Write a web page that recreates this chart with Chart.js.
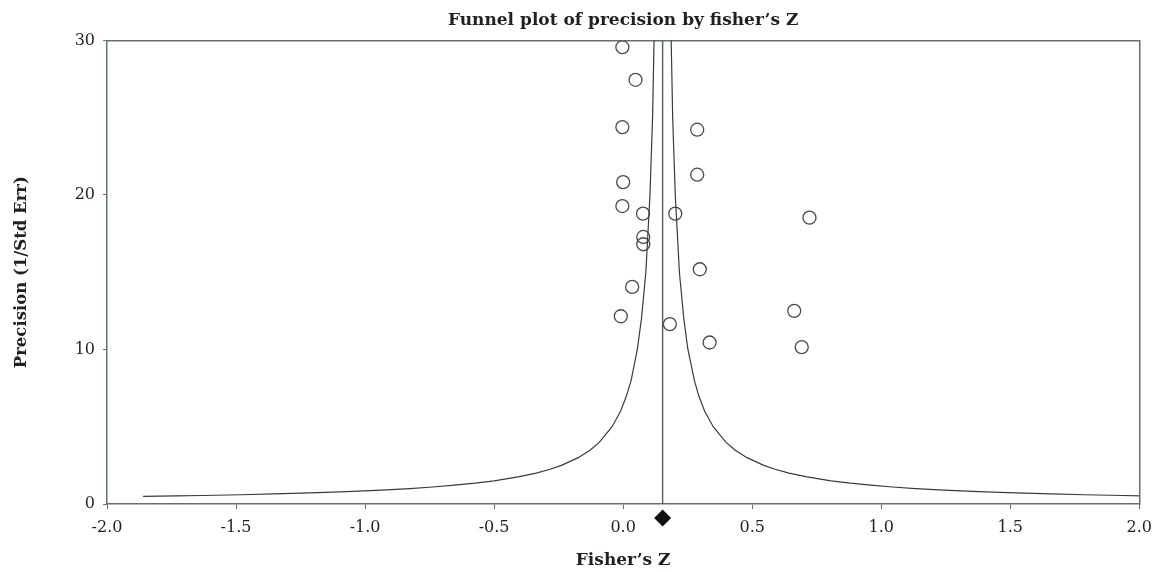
<!DOCTYPE html>
<html>
<head>
<meta charset="utf-8">
<script src="https://cdn.jsdelivr.net/npm/chart.js@4.4.1/dist/chart.umd.min.js"></script>
<style>
  body { margin: 0; background: #fff; }
</style>
</head>
<body>
<canvas id="funnelChart" width="1161" height="572"></canvas>
<script>
// study points
const studyZ = [-0.003, 0.048, -0.003, 0.287, 0.0, 0.287, -0.003, 0.077, 0.202, 0.722,
  0.078, 0.078, 0.297, 0.035, 0.663, -0.009, 0.181, 0.335, 0.692];
const studyPrecision = [29.56, 27.45, 24.39, 24.22, 20.83, 21.31, 19.28, 18.79, 18.79, 18.53,
  17.28, 16.81, 15.19, 14.05, 12.50, 12.15, 11.64, 10.45, 10.15];

// pooled estimate (vertical line + diamond under the axis)
const pooledZ = 0.153;
const pooledLine = [0, 30];
const diamondPrecision = -0.9;

// funnel limits, read at a set of precision levels
const funnelPrecision = [0.49, 0.52, 0.55, 0.6, 0.65, 0.7, 0.75, 0.8, 0.9, 1.0, 1.1, 1.2, 1.35, 1.5,
  1.75, 2.0, 2.25, 2.5, 3.0, 3.5, 4.0, 5.0, 6.0, 7.0, 8.0, 10, 12, 15, 20, 25, 31];
const funnelLeftZ = [-1.86, -1.732, -1.629, -1.48, -1.355, -1.247, -1.154, -1.072, -0.936, -0.827,
  -0.738, -0.664, -0.573, -0.5, -0.407, -0.337, -0.283, -0.239, -0.174, -0.127, -0.092, -0.043,
  -0.01, 0.013, 0.031, 0.055, 0.071, 0.088, 0.104, 0.114, 0.121];
const funnelRightZ = [2.153, 2.038, 1.935, 1.786, 1.661, 1.553, 1.46, 1.378, 1.242, 1.133,
  1.044, 0.97, 0.879, 0.806, 0.713, 0.643, 0.589, 0.545, 0.48, 0.433, 0.398, 0.349,
  0.316, 0.293, 0.276, 0.251, 0.235, 0.218, 0.202, 0.192, 0.185];

const xTicks = [-2, -1.5, -1, -0.5, 0, 0.5, 1, 1.5, 2];
const yTicks = [0, 10, 20, 30];

const AXIS_COLOR = '#667070';
const TEXT_COLOR = '#231f20';
const SERIF = "'DejaVu Serif', serif";

function toPoints(xs, ys) {
  return xs.map((x, i) => ({x: x, y: ys[i]}));
}

const ctx = document.getElementById('funnelChart');
const funnelChart = new Chart(ctx, {
  type: 'scatter',
  data: {
    datasets: [
      {
        // left funnel limit
        data: toPoints(funnelLeftZ, funnelPrecision),
        showLine: true,
        borderColor: '#3a3a3a',
        borderWidth: 1.2,
        pointRadius: 0,
        tension: 0
      },
      {
        // right funnel limit
        data: toPoints(funnelRightZ, funnelPrecision),
        showLine: true,
        borderColor: '#3a3a3a',
        borderWidth: 1.2,
        pointRadius: 0,
        tension: 0
      },
      {
        // pooled line
        data: toPoints([pooledZ, pooledZ], pooledLine),
        showLine: true,
        borderColor: '#555c5c',
        borderWidth: 1.4,
        pointRadius: 0
      },
      {
        data: toPoints(studyZ, studyPrecision),
        pointStyle: 'circle',
        pointRadius: 6.5,
        borderWidth: 1.3,
        borderColor: '#4a4a4a',
        backgroundColor: 'rgba(0,0,0,0)'
      },
      {
        // sits below the x axis, so widen the in-area margin via hoverRadius
        data: [{x: pooledZ, y: diamondPrecision}],
        pointStyle: 'rectRot',
        pointRadius: 8.5,
        hoverRadius: 20,
        borderWidth: 0,
        backgroundColor: '#111',
        clip: false
      }
    ]
  },
  options: {
    responsive: false,
    animation: false,
    events: [],
    layout: {padding: {left: 0, right: 21, top: 0, bottom: 0}},
    plugins: {
      legend: {display: false},
      tooltip: {enabled: false},
      title: {
        display: true,
        fullSize: false,
        text: 'Funnel plot of precision by fisher’s Z',
        color: TEXT_COLOR,
        font: {family: SERIF, size: 17, weight: 'bold'},
        padding: {top: 10, bottom: 10}
      }
    },
    scales: {
      x: {
        type: 'linear',
        min: -2,
        max: 2,
        afterBuildTicks: s => { s.ticks = xTicks.map(v => ({value: v})); },
        afterFit: s => { s.height = 68; },
        ticks: {
          callback: v => v.toFixed(1),
          color: TEXT_COLOR,
          font: {family: SERIF, size: 16},
          padding: 9,
          maxRotation: 0
        },
        grid: {drawOnChartArea: false, tickLength: 5, color: AXIS_COLOR},
        border: {color: AXIS_COLOR, width: 1.5},
        title: {
          display: true,
          text: 'Fisher’s Z',
          color: TEXT_COLOR,
          font: {family: SERIF, size: 17, weight: 'bold'},
          padding: {top: 0, bottom: 1}
        }
      },
      y: {
        type: 'linear',
        min: 0,
        max: 30,
        afterBuildTicks: s => { s.ticks = yTicks.map(v => ({value: v})); },
        afterFit: s => { s.width = 107; },
        ticks: {
          color: TEXT_COLOR,
          font: {family: SERIF, size: 16},
          padding: 8
        },
        grid: {drawOnChartArea: false, tickLength: 4, color: AXIS_COLOR},
        border: {color: AXIS_COLOR, width: 1.5},
        title: {
          display: true,
          text: 'Precision (1/Std Err)',
          color: TEXT_COLOR,
          font: {family: SERIF, size: 16.5, weight: 'bold'},
          padding: {top: 12, bottom: 0}
        }
      },
      x2: {
        type: 'linear',
        position: 'top',
        min: -2,
        max: 2,
        afterFit: s => { s.height = 0; },
        ticks: {display: false},
        grid: {display: false},
        border: {display: true, color: AXIS_COLOR, width: 1.5}
      },
      y2: {
        type: 'linear',
        position: 'right',
        min: 0,
        max: 30,
        afterFit: s => { s.width = 0; },
        ticks: {display: false},
        grid: {display: false},
        border: {display: true, color: AXIS_COLOR, width: 1.5}
      }
    }
  }
});
</script>
</body>
</html>
